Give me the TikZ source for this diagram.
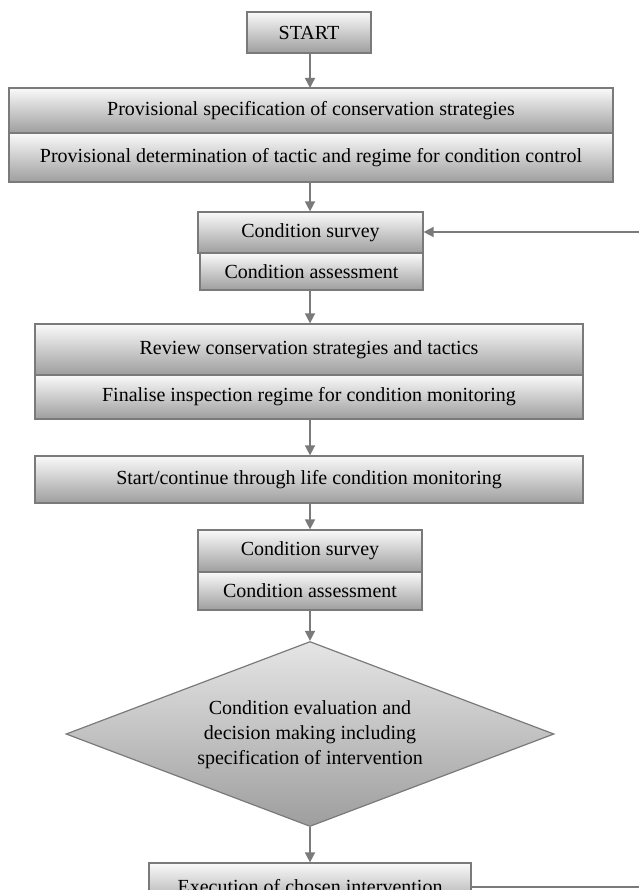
\documentclass[tikz,border=0pt]{standalone}
\usepackage{fontspec}
\setmainfont{Liberation Serif}
\usetikzlibrary{shapes.geometric,arrows.meta}
\definecolor{edgegray}{HTML}{7A7A7A}
\definecolor{shadebot}{HTML}{9E9E9E}
\definecolor{shadetop}{HTML}{FAFAFA}
\begin{document}
\begin{tikzpicture}[x=1pt,y=-1pt,
  box/.style={draw=edgegray, line width=1.2pt, top color=shadetop, bottom color=shadebot,
    inner sep=0pt, font=\fontsize{20}{25}\selectfont, anchor=center},
  decision/.style={shape=diamond, draw=edgegray, line width=1.2pt, top color=white!90!black,
    bottom color=shadebot, inner sep=0pt, aspect=2.64, align=center,
    font=\fontsize{20}{25}\selectfont, minimum width=488pt, minimum height=185pt},
  conn/.style={draw=edgegray, line width=1.5pt, -{Triangle[width=10pt,length=10pt]}},
  plainline/.style={draw=edgegray, line width=1.2pt}
]
\useasboundingbox (0,0) rectangle (639,890);
\clip (0,0) rectangle (639,890);

\node[box, minimum width=124pt, minimum height=41pt] (start) at (309,32.5) {START};

\node[box, minimum width=604pt, minimum height=45pt] (A1) at (311,110.5) {Provisional specification of conservation strategies};
\node[box, minimum width=604pt, minimum height=49pt] (A2) at (311,157.5) {Provisional determination of tactic and regime for condition control};

\node[box, minimum width=225pt, minimum height=41pt] (C1a) at (310.5,232.5) {Condition survey};
\node[box, minimum width=223pt, minimum height=37pt] (C1b) at (311.5,271.5) {Condition assessment};

\node[box, minimum width=548pt, minimum height=51pt] (R1) at (309,349.5) {Review conservation strategies and tactics};
\node[box, minimum width=548pt, minimum height=44pt] (R2) at (309,397) {Finalise inspection regime for condition monitoring};

\node[box, minimum width=548pt, minimum height=47pt] (S) at (309,479.5) {Start/continue through life condition monitoring};

\node[box, minimum width=224pt, minimum height=42pt] (C2a) at (310,551) {Condition survey};
\node[box, minimum width=224pt, minimum height=38pt] (C2b) at (310,591) {Condition assessment};

\node[decision] (D) at (310,734) {\raisebox{5pt}{\begin{tabular}{@{}c@{}}Condition evaluation and\\decision making including\\specification of intervention\end{tabular}}};

\node[box, minimum width=322pt, minimum height=47pt] (E) at (310,886.5) {Execution of chosen intervention};

\coordinate (fbin) at (639,232);
\coordinate (fbout) at (639,887);

\draw[conn] (start.south -| 310,0) -- (310,88);
\draw[conn] (A2.south -| 310,0) -- (C1a.north -| 310,0);
\draw[conn] (C1b.south -| 310,0) -- (R1.north -| 310,0);
\draw[conn] (R2.south -| 310,0) -- (S.north -| 310,0);
\draw[conn] (S.south -| 310,0) -- (C2a.north -| 310,0);
\draw[conn] (C2b.south) -- (D.north);
\draw[conn] (D.south) -- (E.north);
\draw[conn] (fbin) -- (fbin -| C1a.east);
\draw[plainline] (E.east |- fbout) -- (fbout);
\end{tikzpicture}
\end{document}
